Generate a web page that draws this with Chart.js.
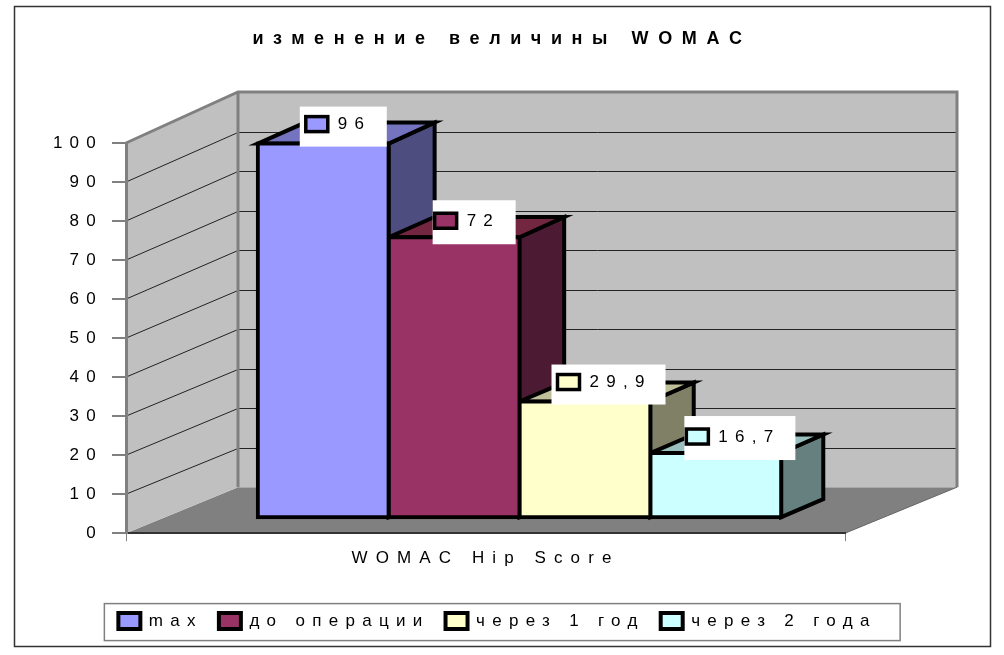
<!DOCTYPE html>
<html>
<head>
<meta charset="utf-8">
<title>WOMAC</title>
<style>
  body { margin: 0; background: #fff; }
  canvas { display: block; }
</style>
<script src="https://cdn.jsdelivr.net/npm/chart.js@4"></script>
</head>
<body>
<canvas id="chart" width="1004" height="655"></canvas>
<script>
const categories = ["WOMAC Hip Score"];
const seriesNames = ["max", "до операции", "через 1 год", "через 2 года"];
const seriesValues = [96, 72, 29.9, 16.7];
const frontColors = ["#9999FF", "#993366", "#FFFFCC", "#CCFFFF"];
const topColors = ["#7373BF", "#732640", "#BFBF99", "#99BFBF"];
const sideColors = ["#4D4D80", "#4D1A33", "#808066", "#668080"];

// 3d look, offsets from the front plane of the axes
const BAR_SHIFT = { x: 34, y: -15 };
const WALL = { x: 112, top: -51, bottom: -46 };
const BAR_LINE = 4;
const LEGEND_SHIFT = -4.5;

// the original stretches every text, each block a bit differently
const SPACING = "7.25px";
const TITLE_SPACING = "9.6px";
const LEGEND_SPACING = "7.3px";
const XLABEL_SPACING = "8.1px";

// white value labels, relative to the front top left corner of each bar
const labelLeft = [42, 44, 32, 34];
const labelWidth = [87, 83, 114, 111];
const labelHeight = [40, 44, 40, 44];
const swatchLeft = [6, 2, 6, 2];

// bar depth shrinks a little to the right and towards the floor
function depth(x, y) {
  return [x + 46 - (x - 387) * 0.01, y - 18 - 3 * (518 - y) / 375];
}

function poly(ctx, pts, fill, stroke, lw) {
  ctx.beginPath();
  pts.forEach((p, i) => (i ? ctx.lineTo(p[0], p[1]) : ctx.moveTo(p[0], p[1])));
  ctx.closePath();
  if (fill) { ctx.fillStyle = fill; ctx.fill(); }
  if (stroke) { ctx.strokeStyle = stroke; ctx.lineWidth = lw; ctx.stroke(); }
}

// run one method of a chart box with its own letter spacing
function spaced(ctx, box, method, spacing) {
  const key = "spaced_" + method;
  if (box[key]) return;
  const orig = box[method].bind(box);
  box[method] = (...args) => {
    ctx.letterSpacing = spacing;
    const res = orig(...args);
    ctx.letterSpacing = SPACING;
    return res;
  };
  box[key] = true;
}

function drawWalls(chart) {
  const ctx = chart.ctx;
  const { left, right, top, bottom } = chart.chartArea;
  const y = chart.scales.y;
  const backY = (p) => p + WALL.bottom + (WALL.top - WALL.bottom) * (bottom - p) / (bottom - top);
  const bx = left + WALL.x;
  const rx = right + WALL.x;
  ctx.save();
  // floor and walls
  poly(ctx, [[left, bottom], [right, bottom], [rx, bottom + WALL.bottom], [bx, bottom + WALL.bottom]], "#808080");
  poly(ctx, [[bx, top + WALL.top], [rx, top + WALL.top], [rx, bottom + WALL.bottom], [bx, bottom + WALL.bottom]], "#C0C0C0");
  poly(ctx, [[left, top], [bx, top + WALL.top], [bx, bottom + WALL.bottom], [left, bottom]], "#C0C0C0");
  // grid lines, left wall then back wall
  ctx.strokeStyle = "#222";
  ctx.lineWidth = 1;
  y.ticks.forEach((tick) => {
    if (tick.value === y.min || tick.value === y.max) return;
    const p = y.getPixelForValue(tick.value);
    const q = Math.round(backY(p)) + 0.5;
    ctx.beginPath();
    ctx.moveTo(left, p);
    ctx.lineTo(bx, q);
    ctx.lineTo(rx, q);
    ctx.stroke();
  });
  // wall edges
  ctx.strokeStyle = "#808080";
  ctx.lineWidth = 3;
  ctx.beginPath();
  ctx.moveTo(left, top);
  ctx.lineTo(bx, top + WALL.top);
  ctx.lineTo(rx, top + WALL.top);
  ctx.lineTo(rx, bottom + WALL.bottom);
  ctx.moveTo(bx, top + WALL.top);
  ctx.lineTo(bx, bottom + WALL.bottom);
  ctx.stroke();
  ctx.strokeStyle = "#666";
  ctx.lineWidth = 1;
  ctx.beginPath();
  ctx.moveTo(right, bottom);
  ctx.lineTo(rx, bottom + WALL.bottom);
  ctx.stroke();
  ctx.restore();
}

const scene = {
  id: "scene",
  beforeLayout(chart) {
    const ctx = chart.ctx;
    ctx.letterSpacing = SPACING;
    spaced(ctx, chart.legend, "fit", LEGEND_SPACING);
    spaced(ctx, chart.legend, "draw", LEGEND_SPACING);
    spaced(ctx, chart.titleBlock, "draw", TITLE_SPACING);
  },
  afterLayout(chart) {
    chart.legend.left += LEGEND_SHIFT;
    chart.legend.right += LEGEND_SHIFT;
  },
  beforeDraw(chart) {
    const ctx = chart.ctx;
    ctx.letterSpacing = SPACING;
    spaced(ctx, chart.scales.x, "drawLabels", XLABEL_SPACING);
    ctx.save();
    ctx.strokeStyle = "#333";
    ctx.lineWidth = 1.5;
    ctx.strokeRect(14.5, 6.5, 976, 640);
    // legend frame, from the legend's own boxes
    const hit = chart.legend.legendHitBoxes;
    const last = hit[hit.length - 1];
    ctx.strokeStyle = "#808080";
    ctx.strokeRect(hit[0].left - 14, hit[0].top - 9, last.left + last.width - hit[0].left + 37.5, 37);
    ctx.restore();
    drawWalls(chart);
  },
  beforeDatasetsDraw(chart) {
    const ctx = chart.ctx;
    ctx.save();
    ctx.lineJoin = "miter";
    ctx.miterLimit = 10;
    // top and side of every bar
    chart.data.datasets.forEach((ds, i) => {
      const bar = chart.getDatasetMeta(i).data[0];
      const x0 = bar.x - bar.width / 2 + BAR_SHIFT.x;
      const x1 = bar.x + bar.width / 2 + BAR_SHIFT.x;
      const y0 = bar.y + BAR_SHIFT.y;
      const y1 = bar.base + BAR_SHIFT.y;
      poly(ctx, [[x1, y0], depth(x1, y0), depth(x1, y1), [x1, y1]], sideColors[i], "#000", BAR_LINE);
      poly(ctx, [[x0, y0], depth(x0, y0), depth(x1, y0), [x1, y0]], topColors[i], "#000", BAR_LINE);
    });
    ctx.restore();
    ctx.save();
    ctx.translate(BAR_SHIFT.x, BAR_SHIFT.y);
  },
  afterDatasetsDraw(chart) {
    const ctx = chart.ctx;
    ctx.restore();
    ctx.save();
    chart.data.datasets.forEach((ds, i) => {
      const bar = chart.getDatasetMeta(i).data[0];
      const x = bar.x - bar.width / 2 + BAR_SHIFT.x + labelLeft[i];
      const y = bar.y + BAR_SHIFT.y - 37;
      const h = labelHeight[i];
      ctx.fillStyle = "#fff";
      ctx.fillRect(x, y, labelWidth[i], h);
      const sy = y + (h === 40 ? 10 : 13);
      ctx.fillStyle = frontColors[i];
      ctx.strokeStyle = "#000";
      ctx.lineWidth = 3.5;
      ctx.fillRect(x + swatchLeft[i], sy, 22, 15);
      ctx.strokeRect(x + swatchLeft[i], sy, 22, 15);
      ctx.fillStyle = "#000";
      ctx.font = "17px 'Liberation Sans'";
      ctx.textBaseline = "middle";
      ctx.textAlign = "left";
      ctx.fillText(String(ds.data[0]).replace(".", ","), x + swatchLeft[i] + 32, sy + 8);
    });
    ctx.restore();
  }
};

Chart.defaults.font.family = "'Liberation Sans'";
Chart.defaults.font.size = 17;
Chart.defaults.color = "#000";

new Chart(document.getElementById("chart"), {
  type: "bar",
  plugins: [scene],
  data: {
    labels: categories,
    datasets: seriesNames.map((name, i) => ({
      label: name,
      data: [seriesValues[i]],
      backgroundColor: frontColors[i],
      borderColor: "#000",
      borderWidth: BAR_LINE,
      borderSkipped: false,
      inflateAmount: BAR_LINE / 2,
      clip: false
    }))
  },
  options: {
    responsive: false,
    animation: false,
    layout: { padding: { left: 0, right: 0, top: 0, bottom: 15.4 } },
    categoryPercentage: 0.728,
    barPercentage: 1,
    plugins: {
      title: {
        display: true,
        text: "изменение величины WOMAC",
        font: { size: 18, weight: "bold" },
        padding: { top: 28, bottom: 93.4 }
      },
      legend: {
        position: "bottom",
        labels: { boxWidth: 22, boxHeight: 16, padding: 16 }
      },
      tooltip: { enabled: false }
    },
    scales: {
      x: {
        afterFit: (s) => { s.height = 63.4; },
        border: { color: "#333", width: 2 },
        grid: { drawOnChartArea: false, tickLength: 8, color: "#808080" },
        ticks: { padding: 7, maxRotation: 0 }
      },
      y: {
        min: 0,
        max: 100,
        afterFit: (s) => { s.width = 126; },
        border: { color: "#808080", width: 3 },
        grid: { drawOnChartArea: false, tickLength: 14, color: "#808080", lineWidth: 2 },
        ticks: { stepSize: 10, padding: 9 }
      },
      // empty axis, only keeps the room right of the floor
      right: {
        position: "right",
        display: true,
        afterFit: (s) => { s.width = 159; },
        border: { display: false },
        grid: { display: false },
        ticks: { display: false }
      }
    }
  }
});
</script>
</body>
</html>
